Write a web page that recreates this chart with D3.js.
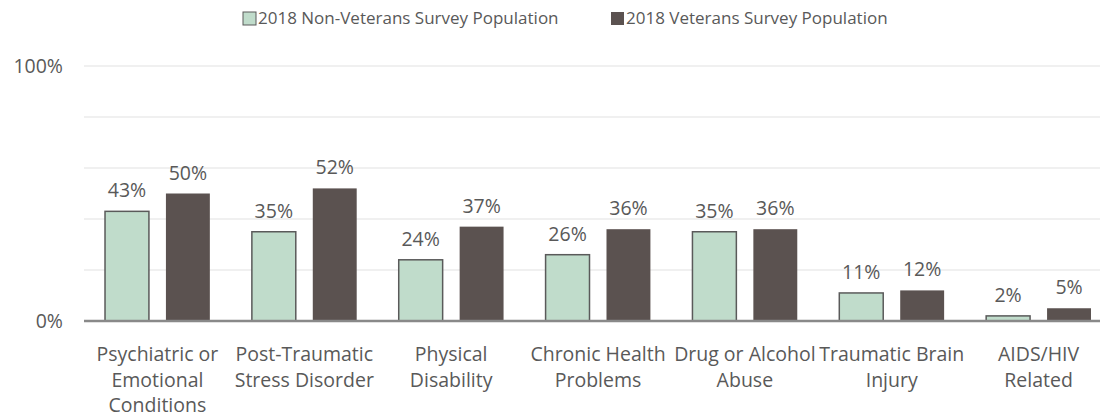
<!DOCTYPE html>
<html><head><meta charset="utf-8">
<script src="https://cdn.jsdelivr.net/npm/d3@7"></script>
<style>
body{margin:0;background:#fff;}
text{font-family:"Open Sans",sans-serif;fill:#595959;}
</style></head>
<body><svg id="c" width="1112" height="420"></svg>
<script>
const categories = [
  ["Psychiatric or","Emotional","Conditions"],
  ["Post-Traumatic","Stress Disorder"],
  ["Physical","Disability"],
  ["Chronic Health","Problems"],
  ["Drug or Alcohol","Abuse"],
  ["Traumatic Brain","Injury"],
  ["AIDS/HIV","Related"]
];
const nonVeterans = [43,35,24,26,35,11,2];
const veterans = [50,52,37,36,36,12,5];
const seriesNames = ["2018 Non-Veterans Survey Population","2018 Veterans Survey Population"];
const colors = ["#c0dccb","#5b5250"];
const yTicks = [0,20,40,60,80,100];
const yTickLabels = ["0%","","","","","100%"];
const FS = "19.5px";
const LFS = "17px";

const svg = d3.select("#c");
const m = {left:84, right:0, top:66, bottom:99};
const W = 1112, H = 420;
const x0 = d3.scaleBand().domain(d3.range(categories.length)).range([m.left, W-m.right]).paddingInner(0).paddingOuter(0);
const x1 = d3.scaleBand().domain([0,1]).range([0, x0.bandwidth()]).paddingInner(0.279).paddingOuter(0.345);
const y = d3.scaleLinear().domain([0,100]).range([H-m.bottom, m.top]);

svg.append("g").selectAll("line").data(yTicks.filter(d=>d>0)).join("line")
  .attr("x1", m.left).attr("x2", W-12).attr("y1", d=>y(d)).attr("y2", d=>y(d))
  .attr("stroke","#ebebeb").attr("stroke-width",1.3);

svg.append("g").selectAll("text").data(yTicks).join("text")
  .attr("x", 63).attr("y", d=>y(d)).attr("dy","0.35em").attr("text-anchor","end")
  .style("font-size",FS).text((d,i)=>yTickLabels[i]);

const data = [nonVeterans, veterans];
data.forEach((vals, s) => {
  const g = svg.append("g");
  g.selectAll("rect").data(vals).join("rect")
    .attr("x", (d,i)=>x0(i)+x1(s)).attr("width", x1.bandwidth())
    .attr("y", d=>y(d)).attr("height", d=>y(0)-y(d))
    .attr("fill", colors[s])
    .attr("stroke", s===0 ? "#5a5a5a" : "none").attr("stroke-width", 1.5);
  g.selectAll("text").data(vals).join("text")
    .attr("x", (d,i)=>x0(i)+x1(s)+x1.bandwidth()/2).attr("y", d=>y(d)-14)
    .attr("text-anchor","middle").style("font-size",FS).text(d=>d+"%");
});

svg.append("line").attr("x1", m.left).attr("x2", W-12).attr("y1", y(0)).attr("y2", y(0))
  .attr("stroke","#898989").attr("stroke-width",2.5);

const cg = svg.append("g").selectAll("text").data(categories).join("text")
  .attr("text-anchor","middle").style("font-size",FS)
  .attr("transform",(d,i)=>`translate(${x0(i)+x0.bandwidth()/2},${y(0)+40})`);
cg.selectAll("tspan").data(d=>d).join("tspan").attr("x",0).attr("y",(d,i)=>i*25.5).text(d=>d);

const leg = [{x:243, s:0},{x:611, s:1}];
leg.forEach(l=>{
  svg.append("rect").attr("x",l.x).attr("y",12).attr("width",13).attr("height",13)
    .attr("fill",colors[l.s]).attr("stroke", l.s===0?"#5a5a5a":"none").attr("stroke-width",1);
  svg.append("text").attr("x",l.x+15).attr("y",18).attr("dy","0.35em")
    .style("font-size",LFS).text(seriesNames[l.s]);
});
</script></body></html>
